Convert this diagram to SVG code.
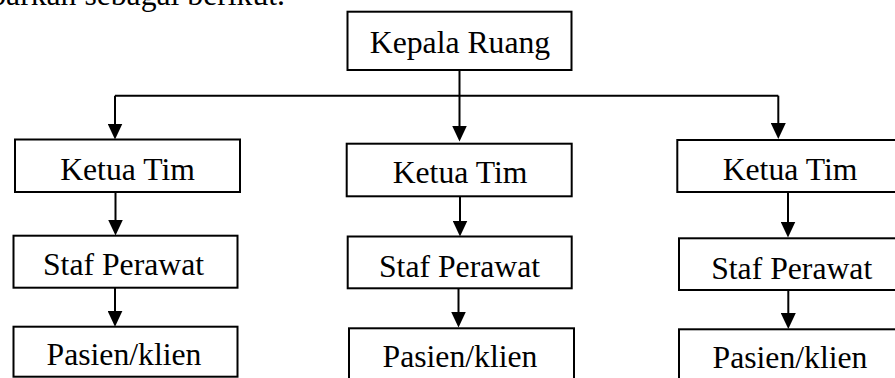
<svg xmlns="http://www.w3.org/2000/svg" width="895" height="378" viewBox="0 0 895 378">
<style>
  .box{fill:#fff;stroke:#000;stroke-width:2}
  .lbl{font-family:"Liberation Serif","Times New Roman",serif;font-size:31.7px;fill:#000;text-anchor:middle}
  .cap{font-family:"Liberation Serif","Times New Roman",serif;font-size:31.7px;fill:#000}
  .con{fill:none;stroke:#000;stroke-width:2}
</style>
<defs>
  <marker id="ah" markerUnits="userSpaceOnUse" markerWidth="16" markerHeight="15" refX="10" refY="7.5" orient="auto">
    <path d="M0,0 L16,7.5 L0,15 Z" fill="#000"/>
  </marker>
</defs>
<rect width="895" height="378" fill="#fff"/>
<text class="cap" x="285" y="5" text-anchor="end">barkan sebagai berikut.</text>

<g id="connectors">
  <path class="con" d="M459.5,70 V135.5" marker-end="url(#ah)"/>
  <path class="con" d="M115,95.7 H778.3"/>
  <path class="con" d="M115,95.7 V133.5" marker-end="url(#ah)"/>
  <path class="con" d="M778.3,95.7 V133" marker-end="url(#ah)"/>
  <path class="con" d="M115.5,192 V229.5" marker-end="url(#ah)"/>
  <path class="con" d="M115,287.7 V320.7" marker-end="url(#ah)"/>
  <path class="con" d="M460,196.3 V230.5" marker-end="url(#ah)"/>
  <path class="con" d="M458.5,288.3 V321.5" marker-end="url(#ah)"/>
  <path class="con" d="M788,192 V231.5" marker-end="url(#ah)"/>
  <path class="con" d="M788.3,290 V323" marker-end="url(#ah)"/>
</g>

<g id="kepala-ruang">
  <rect class="box" x="347.5" y="11.7" width="224" height="58.3"/>
  <text class="lbl" x="460" y="53">Kepala Ruang</text>
</g>

<g id="ketua-tim-1">
  <rect class="box" x="15" y="139.5" width="225" height="52.5"/>
  <text class="lbl" x="127.5" y="180">Ketua Tim</text>
</g>
<g id="staf-perawat-1">
  <rect class="box" x="13.5" y="235.7" width="224" height="52"/>
  <text class="lbl" x="123.5" y="275">Staf Perawat</text>
</g>
<g id="pasien-klien-1">
  <rect class="box" x="13.5" y="326.7" width="224" height="50"/>
  <text class="lbl" x="124" y="365">Pasien/klien</text>
</g>

<g id="ketua-tim-2">
  <rect class="box" x="346.7" y="143.7" width="225" height="52.6"/>
  <text class="lbl" x="460" y="183.3">Ketua Tim</text>
</g>
<g id="staf-perawat-2">
  <rect class="box" x="347.7" y="236.5" width="224" height="51.8"/>
  <text class="lbl" x="459.5" y="276.5">Staf Perawat</text>
</g>
<g id="pasien-klien-2">
  <rect class="box" x="349" y="328.3" width="225" height="55"/>
  <text class="lbl" x="460" y="366.7">Pasien/klien</text>
</g>

<g id="ketua-tim-3">
  <rect class="box" x="677.3" y="140" width="230" height="52"/>
  <text class="lbl" x="790" y="180">Ketua Tim</text>
</g>
<g id="staf-perawat-3">
  <rect class="box" x="679" y="238.3" width="230" height="51.7"/>
  <text class="lbl" x="791.7" y="278.5">Staf Perawat</text>
</g>
<g id="pasien-klien-3">
  <rect class="box" x="679" y="329.3" width="230" height="55"/>
  <text class="lbl" x="790" y="368">Pasien/klien</text>
</g>
</svg>
